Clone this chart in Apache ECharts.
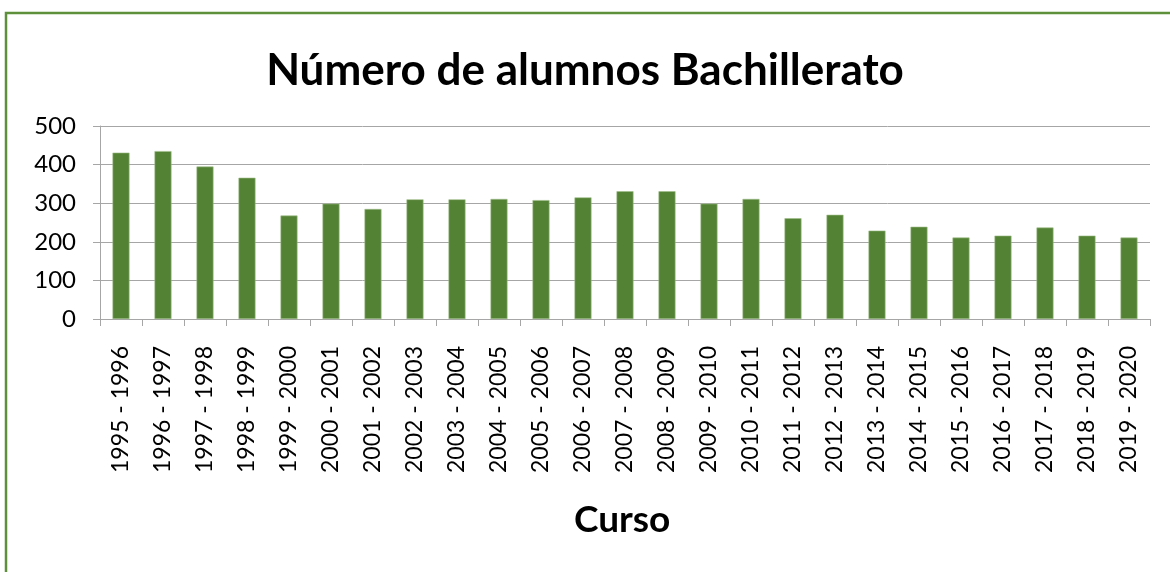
<!DOCTYPE html>
<html>
<head>
<meta charset="utf-8">
<script src="https://cdn.jsdelivr.net/npm/echarts@6/dist/echarts.min.js"></script>
<style>
  html, body { margin: 0; padding: 0; background: #fff; }
  #chart { width: 1170px; height: 572px; }
</style>
</head>
<body>
<div id="chart"></div>
<script>
// cursos
var cursos = [
  '1995 - 1996', '1996 - 1997', '1997 - 1998', '1998 - 1999', '1999 - 2000',
  '2000 - 2001', '2001 - 2002', '2002 - 2003', '2003 - 2004', '2004 - 2005',
  '2005 - 2006', '2006 - 2007', '2007 - 2008', '2008 - 2009', '2009 - 2010',
  '2010 - 2011', '2011 - 2012', '2012 - 2013', '2013 - 2014', '2014 - 2015',
  '2015 - 2016', '2016 - 2017', '2017 - 2018', '2018 - 2019', '2019 - 2020'
];
// numero de alumnos
var alumnos = [
  431, 435, 395, 366, 268,
  299, 285, 310, 310, 311,
  308, 315, 331, 331, 299,
  311, 261, 270, 229, 239,
  211, 216, 237, 216, 211
];

var fuente = 'Lato, "Open Sans", sans-serif';
var chart = echarts.init(document.getElementById('chart'));

chart.setOption({
  animation: false,
  title: {
    text: 'Número de alumnos Bachillerato',
    left: 'center',
    top: 44,
    textStyle: { fontFamily: fuente, fontSize: 44, fontWeight: 'bold', color: '#000' }
  },
  graphic: [{
    type: 'rect',
    shape: { x: 6, y: 13, width: 1180, height: 600 },
    style: { fill: 'none', stroke: '#5e8f3a', lineWidth: 2.5 },
    silent: true
  }, {
    type: 'text',
    left: 574,
    top: 502,
    style: { text: 'Curso', font: 'bold 37px ' + fuente, fill: '#000' }
  }],
  grid: { left: 100, right: 20, top: 126, height: 193 },
  xAxis: {
    type: 'category',
    data: cursos,
    axisLine: { lineStyle: { color: '#a6a6a6', width: 1 } },
    axisTick: { show: true, length: 7, lineStyle: { color: '#a6a6a6' } },
    axisLabel: {
      rotate: 90, margin: 27, interval: 0,
      fontFamily: fuente, fontSize: 23, color: '#000'
    }
  },
  yAxis: {
    type: 'value',
    min: 0, max: 500, interval: 100,
    axisLine: { show: true, lineStyle: { color: '#a6a6a6', width: 1 } },
    axisTick: { show: true, length: 7, lineStyle: { color: '#a6a6a6' } },
    axisLabel: { margin: 24, fontFamily: fuente, fontSize: 24, color: '#000' },
    splitLine: { lineStyle: { color: '#a6a6a6', width: 1 } }
  },
  series: [{
    type: 'bar',
    data: alumnos,
    barWidth: 17,
    itemStyle: { color: '#548235', borderColor: '#9fbf8a', borderWidth: 0.6 }
  }]
});
</script>
</body>
</html>
